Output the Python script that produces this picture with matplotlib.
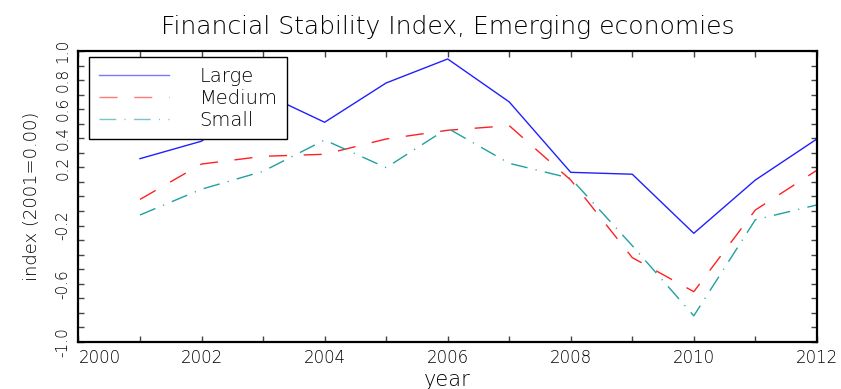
import matplotlib
matplotlib.use("Agg")
import matplotlib.pyplot as plt
import numpy as np

# data
years = [2001, 2002, 2003, 2004, 2005, 2006, 2007, 2008, 2009, 2010, 2011, 2012]
large = [0.26, 0.38, 0.71, 0.51, 0.78, 0.945, 0.65, 0.166, 0.153, -0.253, 0.113, 0.395]
medium = [-0.02, 0.223, 0.276, 0.29, 0.395, 0.455, 0.487, 0.113, -0.42, -0.654, -0.093, 0.18]
small = [-0.127, 0.05, 0.173, 0.388, 0.198, 0.469, 0.228, 0.125, -0.338, -0.82, -0.16, -0.058]

ytick_vals = [-1.0, -0.6, -0.2, 0.2, 0.4, 0.6, 0.8, 1.0]
xtick_vals = list(range(2000, 2013, 2))

plt.rcParams["font.family"] = ["DejaVu Sans"]
plt.rcParams["font.weight"] = "light"
plt.rcParams["axes.titleweight"] = "light"
plt.rcParams["axes.labelweight"] = "light"

fig = plt.figure(figsize=(8.41, 3.89), dpi=100)
ax = fig.add_axes([0.0933, 0.1208, 0.878, 0.7482])

ax.plot(years, large, color="#2020ff", lw=1.0, label="Large")
ax.plot(years, medium, color="#ff2020", lw=1.0, linestyle=(0, (13, 12)), label="Medium")
ax.plot(years, small, color="#20a0a0", lw=1.0, linestyle=(0, (12, 6, 0.8, 6)), label="Small")

ax.set_xlim(2000, 2012)
ax.set_ylim(-1.0, 1.0)

ax.set_xticks(xtick_vals)
ax.set_xticklabels([str(x) for x in xtick_vals], fontsize=12)
ax.get_xticklabels()[0].set_horizontalalignment("left")
ax.set_xticks(range(2001, 2012, 2), minor=True)
ax.set_yticks(ytick_vals)
ax.set_yticklabels(["%.1f" % v for v in ytick_vals], rotation=90, va="center", fontsize=11)
ax.set_yticks(np.arange(-0.9, 1.0, 0.1), minor=True)

ax.tick_params(which="both", direction="in", top=True, right=True, length=4, width=1, color="#444444")
ax.tick_params(axis="x", pad=5)
ax.tick_params(axis="y", pad=6)

for side in ["left", "bottom", "right", "top"]:
    ax.spines[side].set_linewidth(1.6)

ax.set_xlabel("year", fontsize=15, labelpad=2)
ax.set_ylabel("index (2001=0.00)", fontsize=13, labelpad=10)
ax.set_title("Financial Stability Index, Emerging economies", fontsize=18, pad=12)

leg = ax.legend(loc="upper left", bbox_to_anchor=(0.014, 0.979), fontsize=14,
                handlelength=3.6, handletextpad=1.6, labelspacing=0.15,
                borderpad=0.5, borderaxespad=0, fancybox=False, framealpha=1,
                edgecolor="black")
leg.get_frame().set_linewidth(1.0)
for line in leg.get_lines():
    line.set_alpha(0.6)

fig.savefig("out.png", dpi=100)
